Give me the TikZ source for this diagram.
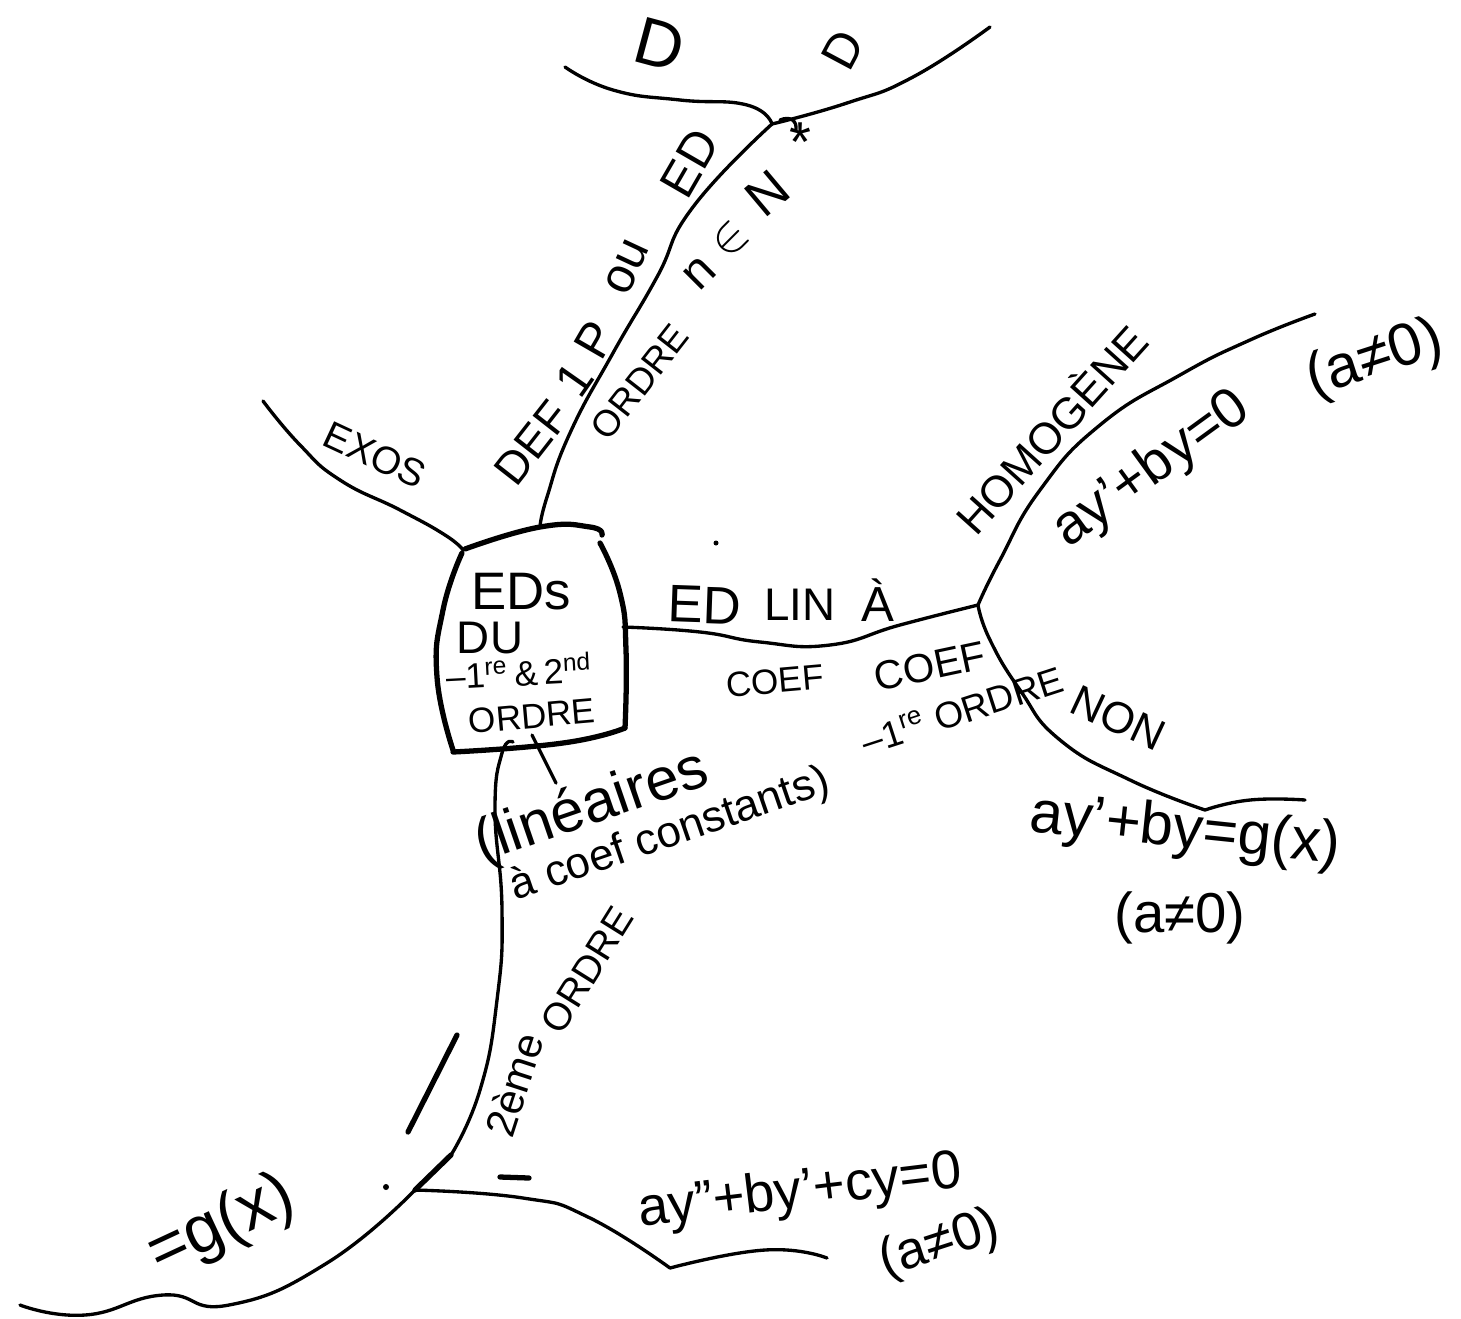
\documentclass[tikz,border=0pt]{standalone}
\usepackage{fontspec}
\setmainfont{Liberation Sans}
\tikzset{
	ink/.style={line width=0.95pt, line join=round, line cap=round},
	inkb/.style={line width=1.5pt, line join=round, line cap=round},
	lbl/.style={inner sep=0pt, font=\fontsize{#1}{#1}\selectfont},
	lbl/.default=12
}
\begin{document}
\begin{tikzpicture}[x=0.01cm, y=-0.01cm, line join=round, line cap=round]
	\useasboundingbox (0,0) rectangle (1461,1318);
	\def\stroke#1{plot[smooth, tension=0.85] coordinates {#1}}
	% junctions
	\coordinate (boxTL) at (463,550);
	\coordinate (boxT) at (540,527);
	\coordinate (boxR) at (623,627);
	\coordinate (boxB) at (513,742);
	\coordinate (top) at (772,124);
	\coordinate (split) at (978,605);
	\coordinate (low) at (415,1190);
	% central box
	\draw[inkb] \stroke{(465,549) (boxT) (590,527) (602,535)};
	\draw[inkb] \stroke{(600,543) (620,593) (626,650) (625,728)};
	\draw[inkb] \stroke{(625,728) (563,743) (453,752)};
	\draw[inkb] \stroke{(453,750) (437,677) (443,610) (462,553)};
	\node[lbl=15] (eds) at (521,592) {EDs};
	\node[lbl=13] (du) at (490,638) {DU};
	\node[lbl=10, rotate=3] (deg) at (519,671) {–1\textsuperscript{re}\,\&\,2\textsuperscript{nd}};
	\node[lbl=10, rotate=5] (ordre) at (532,716) {ORDRE};
	% branches
	\draw[ink] \stroke{(263,401) (300,445) (340,480) (400,510) (445,535) (boxTL)};
	\draw[ink] \stroke{(boxT) (547,497) (570,433) (613,353) (657,277) (693,207) (top)};
	\draw[ink] \stroke{(565,67) (613,90) (680,100) (747,105) (top)};
	\draw[ink] \stroke{(top) (847,103) (913,77) (990,27)};
	\draw[ink] \stroke{(boxR) (700,632) (760,642) (830,645) (900,625) (split)};
	\draw[ink] \stroke{(split) (1000,560) (1040,490) (1100,425) (1180,375) (1250,340) (1315,314)};
	\draw[ink] \stroke{(split) (990,640) (1020,690) (1060,740) (1130,780) (1205,810)};
	\draw[ink] \stroke{(1205,810) (1250,800) (1305,800)};
	\draw[ink] (532,735) -- (556,783);
	\draw[ink] \stroke{(boxB) (502,753) (495,810) (502,910) (497,1000) (480,1090) (451,1155)};
	\draw[inkb] (451,1155) -- (low);
	\draw[ink] \stroke{(low) (327,1263) (229,1305) (163,1295) (85,1315) (20,1305)};
	\draw[ink] \stroke{(low) (523,1198) (588,1217) (670,1268)};
	\draw[ink] \stroke{(670,1268) (765,1250) (827,1258)};
	\draw[inkb] (457,1035) -- (408,1132);
	\draw[inkb] (500,1177) -- (529,1178);
	\draw[ink] (780,120) .. controls (790,116) and (797,120) .. (796,130);
	\fill (716,543) circle (2.5);
	\fill (386,1187) circle (3);
	% labels
	\node[lbl=11, rotate=-25] (exos) at (375,455) {EXOS};
	\node[lbl=13, rotate=52] (def) at (532,443) {DEF};
	\node[lbl=14, rotate=55] (one) at (574,380) {1};
	\node[lbl=14, rotate=60] (p) at (595,340) {P};
	\node[lbl=14, rotate=65] (ou) at (627,267) {ou};
	\node[lbl=14, rotate=60] (ed) at (690,163) {ED};
	\node[lbl=10.5, rotate=52] (ordn) at (640,382) {ORDRE};
	\node[lbl=14, rotate=45] (n) at (700,273) {n};
	\node[lbl=14, rotate=45] (in) at (730,240) {$\in$};
	\node[lbl=15, rotate=40] (nat) at (767,193) {N};
	\node[lbl=16] (star) at (800,142) {*};
	\node[lbl=19, rotate=-15] (dl) at (660,45) {D};
	\node[lbl=14, rotate=62] (dr) at (843,50) {D};
	\node[lbl=15, rotate=-2] (edl) at (705,605) {ED};
	\node[lbl=13] (lin) at (800,605) {LIN};
	\node[lbl=14] (a) at (878,600) {À};
	\node[lbl=10, rotate=5] (coefa) at (775,681) {COEF};
	\node[lbl=11.5, rotate=12] (coefb) at (930,666) {COEF};
	\node[lbl=10.5, rotate=18] (first) at (962,710) {–1\textsuperscript{re} ORDRE};
	\node[lbl=12.5, rotate=48] (homo) at (1050,428) {HOMOGÈNE};
	\node[lbl=16, rotate=36] (eqa) at (1152,470) {ay'+by=0};
	\node[lbl=17, rotate=18] (eqan) at (1375,360) {(a≠0)};
	\node[lbl=12.5, rotate=-25] (non) at (1118,718) {NON};
	\node[lbl=17, rotate=-6] (eqb) at (1185,832) {ay'+by=g(x)};
	\node[lbl=16] (eqbn) at (1180,918) {(a≠0)};
	\node[lbl=17, rotate=19] (lini) at (592,808) {(linéaires};
	\node[lbl=12.5, rotate=19] (cst) at (670,835) {à coef constants)};
	\node[lbl=12, rotate=72] (deux) at (514,1085) {2ème};
	\node[lbl=11, rotate=58] (ord) at (587,970) {ORDRE};
	\node[lbl=19, rotate=25] (gx) at (222,1226) {=g(x)};
	\node[lbl=15.5, rotate=7] (eqc) at (800,1193) {ay''+by'+cy=0};
	\node[lbl=15, rotate=18] (eqcn) at (940,1245) {(a≠0)};
\end{tikzpicture}
\end{document}
